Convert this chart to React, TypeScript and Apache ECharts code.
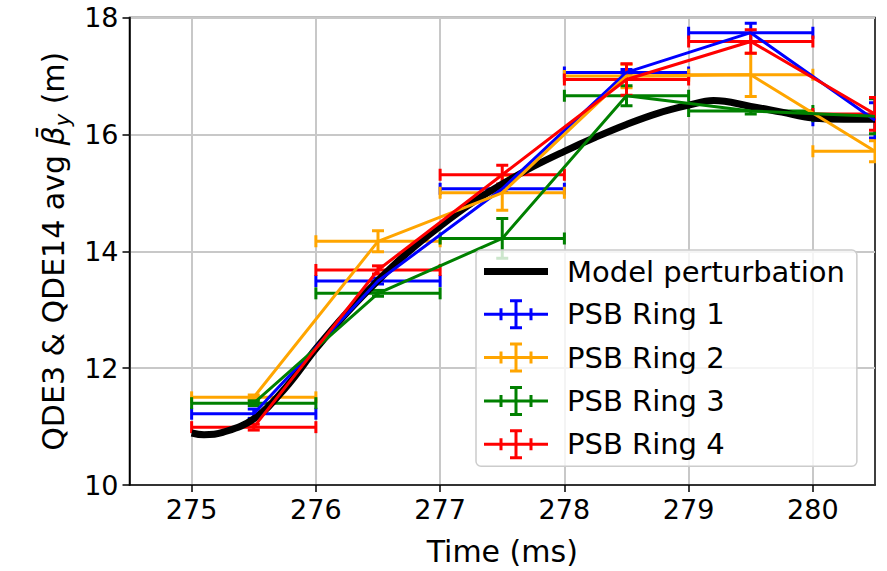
import React, { useEffect, useRef } from "react";
import * as echarts from "echarts";

// ---- data ----
const times = [275.5, 276.5, 277.5, 278.5, 279.5, 280.5];
const timeErr = [0.5, 0.5, 0.5, 0.5, 0.5, 0.5];

const ring1 = [11.22, 13.49, 15.07, 17.06, 17.74, 16.24];
const ring1Err = [0.08, 0.05, 0.06, 0.05, 0.16, 0.3];
const ring2 = [11.5, 14.17, 15.0, 17.0, 17.02, 15.71];
const ring2Err = [0.04, 0.18, 0.3, 0.2, 0.37, 0.18];
const ring3 = [11.4, 13.28, 14.22, 16.66, 16.4, 16.31];
const ring3Err = [0.04, 0.05, 0.34, 0.17, 0.05, 0.3];
const ring4 = [10.99, 13.68, 15.31, 16.94, 17.59, 16.35];
const ring4Err = [0.05, 0.07, 0.16, 0.27, 0.2, 0.28];

const modelTime = [275.0, 275.1, 275.25, 275.5, 275.75, 276.0, 276.25, 276.5, 276.75, 277.0, 277.25, 277.5, 277.75, 278.0, 278.25, 278.5, 278.75, 279.0, 279.2, 279.5, 279.75, 280.0, 280.25, 280.5];
const modelBeta = [10.89, 10.86, 10.9, 11.13, 11.65, 12.33, 12.95, 13.5, 14.0, 14.43, 14.82, 15.15, 15.45, 15.71, 15.95, 16.17, 16.36, 16.5, 16.58, 16.48, 16.38, 16.28, 16.26, 16.26];

const xTicks = [275, 276, 277, 278, 279, 280];
const rings = [
  { name: "PSB Ring 1", color: "#0000ff", vals: ring1, errs: ring1Err },
  { name: "PSB Ring 2", color: "#ffa500", vals: ring2, errs: ring2Err },
  { name: "PSB Ring 3", color: "#008000", vals: ring3, errs: ring3Err },
  { name: "PSB Ring 4", color: "#ff0000", vals: ring4, errs: ring4Err },
];

const FONT = "DejaVu Sans";
const ERR_ICON =
  "path://M0,13.5H64V16.5H0Z M30.5,0H33.5V30H30.5Z M26,0H38V3H26Z M26,27H38V30H26Z M15.5,9H18.5V21H15.5Z M45.5,9H48.5V21H45.5Z";
const LINE_ICON = "path://M0,0H64V7H0Z";

export default function App() {
  const ref = useRef<HTMLDivElement>(null);
  useEffect(() => {
    if (!ref.current) return;
    const chart = echarts.init(ref.current, undefined, { renderer: "svg" });

    const series: any[] = [
      {
        name: "Model perturbation",
        type: "line",
        data: modelTime.map((t, i) => [t, modelBeta[i]]),
        smooth: 0.4,
        symbol: "none",
        lineStyle: { color: "#000", width: 7 },
        itemStyle: { color: "#000" },
        z: 2,
      },
    ];
    rings.forEach((r) => {
      series.push({
        name: r.name,
        type: "line",
        data: times.map((t, i) => [t, r.vals[i]]),
        symbol: "none",
        lineStyle: { color: r.color, width: 3 },
        itemStyle: { color: r.color },
        z: 2,
      });
      series.push({
        name: r.name,
        type: "custom",
        clip: true,
        z: 2,
        itemStyle: { color: r.color },
        data: times.map((t, i) => [t, r.vals[i], timeErr[i], r.errs[i]]),
        encode: { x: 0, y: 1 },
        renderItem: (params: any, api: any) => {
          const x = api.value(0);
          const y = api.value(1);
          const xe = api.value(2);
          const ye = api.value(3);
          const l = api.coord([x - xe, y]);
          const rr = api.coord([x + xe, y]);
          const t = api.coord([x, y + ye]);
          const b = api.coord([x, y - ye]);
          const cap = 6;
          const style = { stroke: r.color, lineWidth: 3, fill: null };
          const ln = (x1: number, y1: number, x2: number, y2: number) => ({
            type: "line",
            shape: { x1, y1, x2, y2 },
            style,
          });
          return {
            type: "group",
            children: [
              ln(l[0], l[1], rr[0], rr[1]),
              ln(l[0], l[1] - cap, l[0], l[1] + cap),
              ln(rr[0], rr[1] - cap, rr[0], rr[1] + cap),
              ln(t[0], t[1], b[0], b[1]),
              ln(t[0] - cap, t[1], t[0] + cap, t[1]),
              ln(b[0] - cap, b[1], b[0] + cap, b[1]),
            ],
          };
        },
      });
    });

    chart.setOption({
      animation: false,
      textStyle: { fontFamily: FONT },
      grid: {
        left: 129.5,
        right: 12,
        top: 17.5,
        bottom: 84.5,
        show: true,
        borderColor: "#000",
        borderWidth: 1.5,
        backgroundColor: "transparent",
      },
      xAxis: {
        type: "value",
        min: 274.5,
        max: 280.5,
        name: "Time (ms)",
        nameLocation: "middle",
        nameGap: 51,
        nameTextStyle: { fontSize: 30, color: "#000", fontFamily: FONT },
        axisLine: { show: true, lineStyle: { color: "#000", width: 1.5 } },
        axisTick: {
          show: true,
          customValues: xTicks,
          length: 7,
          lineStyle: { color: "#000", width: 1.5 },
        },
        axisLabel: {
          customValues: xTicks,
          fontSize: 27,
          color: "#000",
          margin: 11,
          fontFamily: FONT,
        },
        splitLine: { show: true, lineStyle: { color: "#c8c8c8", width: 2 } },
      },
      yAxis: {
        type: "value",
        min: 10,
        max: 18,
        interval: 2,
        name: "QDE3 & QDE14 avg {b|β\u0304}{s|y} (m)",
        nameLocation: "middle",
        nameGap: 56,
        nameTextStyle: {
          fontSize: 30,
          color: "#000",
          fontFamily: FONT,
          lineHeight: 40,
          rich: {
            b: { fontSize: 30, fontStyle: "italic", color: "#000", fontFamily: FONT, lineHeight: 40 },
            s: { fontSize: 21, fontStyle: "italic", color: "#000", fontFamily: FONT, lineHeight: 22, verticalAlign: "bottom" },
          },
        },
        axisLine: { show: true, lineStyle: { color: "#000", width: 1.5 } },
        axisTick: { show: true, length: 7, lineStyle: { color: "#000", width: 1.5 } },
        axisLabel: { fontSize: 27, color: "#000", margin: 11, fontFamily: FONT },
        splitLine: { show: true, lineStyle: { color: "#c8c8c8", width: 2 } },
      },
      legend: {
        orient: "vertical",
        left: 476,
        top: 250,
        selectedMode: false,
        itemWidth: 64,
        itemHeight: 30,
        itemGap: 13.3,
        padding: [7, 12, 7, 8],
        symbolKeepAspect: true,
        backgroundColor: "rgba(255,255,255,0.8)",
        borderColor: "#cccccc",
        borderWidth: 1.5,
        borderRadius: 5,
        itemStyle: { borderWidth: 0 },
        textStyle: { fontSize: 29, color: "#000", fontFamily: FONT, padding: [0, 0, 0, 14] },
        data: [
          { name: "Model perturbation", icon: LINE_ICON },
          ...rings.map((r) => ({ name: r.name, icon: ERR_ICON })),
        ],
      },
      series,
    });
    return () => chart.dispose();
  }, []);

  return (
    <div
      ref={ref}
      style={{ position: "absolute", left: 0, top: 0, width: 887, height: 571, background: "#fff" }}
    />
  );
}
